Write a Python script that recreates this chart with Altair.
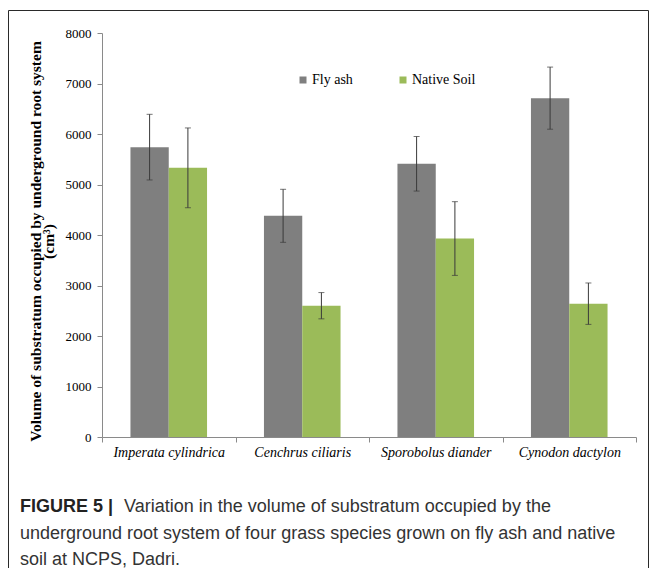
import altair as alt
import pandas as pd

# ---- data ----
species = ["Imperata cylindrica", "Cenchrus ciliaris", "Sporobolus diander", "Cynodon dactylon"]
groups = ["Fly ash", "Native Soil"]
fly_ash = [5740, 4380, 5410, 6710]
fly_ash_err = [650, 525, 540, 615]
native_soil = [5330, 2600, 3930, 2640]
native_soil_err = [790, 260, 730, 410]
y_ticks = [0, 1000, 2000, 3000, 4000, 5000, 6000, 7000, 8000]
colors = ["#7f7f7f", "#9bbb59"]
y_title = ["Volume of substratum occupied by underground root system", "(cm\u00b3)"]
caption_bold = "FIGURE 5 |"
caption_lines = [
    "Variation in the volume of substratum occupied by the",
    "underground root system of four grass species grown on fly ash and native",
    "soil at NCPS, Dadri.",
]

rows = []
for i, s in enumerate(species):
    rows.append(dict(species=s, group=groups[0], value=fly_ash[i], err=fly_ash_err[i]))
    rows.append(dict(species=s, group=groups[1], value=native_soil[i], err=native_soil_err[i]))
df = pd.DataFrame(rows)
df["lo"] = df["value"] - df["err"]
df["hi"] = df["value"] + df["err"]

one = pd.DataFrame({"d": [0]})

W, H = 534, 404
SERIF = "Liberation Serif"
SANS = "Liberation Sans"

x_enc = alt.X(
    "species:N",
    sort=species,
    scale=alt.Scale(paddingInner=0, paddingOuter=0),
    axis=alt.Axis(
        title=None,
        labelAngle=0,
        tickBand="extent",
        labelFont=SERIF,
        labelFontStyle="italic",
        labelFontSize=14,
        labelColor="#000000",
        labelPadding=3,
        tickSize=5,
        tickColor="#8a8a8a",
        domainColor="#8a8a8a",
    ),
)
xoff = alt.XOffset("group:N", sort=groups, scale=alt.Scale(paddingInner=0, paddingOuter=0.743))

y_scale = alt.Scale(domain=[0, 8000], nice=False)
y_axis = alt.Axis(
    values=y_ticks,
    format="d",
    grid=False,
    title=y_title,
    titleFont=SERIF,
    titleFontWeight="bold",
    titleFontSize=15.5,
    titleLineHeight=13,
    titleColor="#000000",
    titlePadding=9,
    titleY=208,
    labelFont=SERIF,
    labelFontSize=13,
    labelColor="#000000",
    labelPadding=6,
    tickSize=5,
    tickColor="#8a8a8a",
    domainColor="#8a8a8a",
)

bars = alt.Chart(df).mark_bar().encode(
    x=x_enc,
    xOffset=xoff,
    y=alt.Y("value:Q", scale=y_scale, axis=y_axis),
    color=alt.Color(
        "group:N",
        scale=alt.Scale(domain=groups, range=colors),
        legend=alt.Legend(
            orient="none",
            legendX=194,
            legendY=40,
            direction="horizontal",
            title=None,
            symbolType="square",
            symbolSize=49,
            symbolStrokeWidth=0,
            symbolOpacity=1,
            labelFont=SERIF,
            labelFontSize=14,
            labelColor="#000000",
            labelOffset=2,
            columnPadding=43,
            padding=0,
        ),
    ),
)

err_rule = alt.Chart(df).mark_rule(color="#3a3a3a", strokeWidth=1).encode(
    x=x_enc, xOffset=xoff,
    y=alt.Y("lo:Q", scale=y_scale, axis=y_axis), y2="hi:Q",
)
cap_lo = alt.Chart(df).mark_tick(color="#3a3a3a", size=6, thickness=1, orient="horizontal").encode(
    x=x_enc, xOffset=xoff, y=alt.Y("lo:Q", scale=y_scale, axis=y_axis),
)
cap_hi = alt.Chart(df).mark_tick(color="#3a3a3a", size=6, thickness=1, orient="horizontal").encode(
    x=x_enc, xOffset=xoff, y=alt.Y("hi:Q", scale=y_scale, axis=y_axis),
)

FL, FR, FT, FB = -93.5, 546.5, -22.5, 600
frame_top = alt.Chart(one).mark_rule(color="#2a2a2a", strokeWidth=1).encode(
    x=alt.value(FL), x2=alt.value(FR), y=alt.value(FT))
frame_left = alt.Chart(one).mark_rule(color="#2a2a2a", strokeWidth=1).encode(
    x=alt.value(FL), y=alt.value(FT), y2=alt.value(FB))
frame_right = alt.Chart(one).mark_rule(color="#2a2a2a", strokeWidth=1).encode(
    x=alt.value(FR), y=alt.value(FT), y2=alt.value(FB))

cap_b = alt.Chart(one).mark_text(
    text=caption_bold, font=SANS, fontSize=18, fontWeight="bold", align="left",
    baseline="alphabetic", color="#222222",
).encode(x=alt.value(-82), y=alt.value(479))
cap1 = alt.Chart(one).mark_text(
    text=caption_lines[0], font=SANS, fontSize=18, align="left", baseline="alphabetic", color="#333333",
).encode(x=alt.value(22), y=alt.value(479))
cap2 = alt.Chart(one).mark_text(
    text=caption_lines[1], font=SANS, fontSize=18, align="left", baseline="alphabetic", color="#333333",
).encode(x=alt.value(-82), y=alt.value(506))
cap3 = alt.Chart(one).mark_text(
    text=caption_lines[2], font=SANS, fontSize=18, align="left", baseline="alphabetic", color="#333333",
).encode(x=alt.value(-82), y=alt.value(532))

chart = alt.layer(
    bars, err_rule, cap_lo, cap_hi, frame_top, frame_left, frame_right, cap_b, cap1, cap2, cap3
).properties(
    width=W, height=H,
    autosize=alt.AutoSizeParams(type="none"),
    padding={"left": 94, "top": 25, "right": 13, "bottom": 131},
    background="#ffffff",
).configure_view(stroke=None)

chart.save("out.html", embed_options={"renderer": "svg", "actions": False})
